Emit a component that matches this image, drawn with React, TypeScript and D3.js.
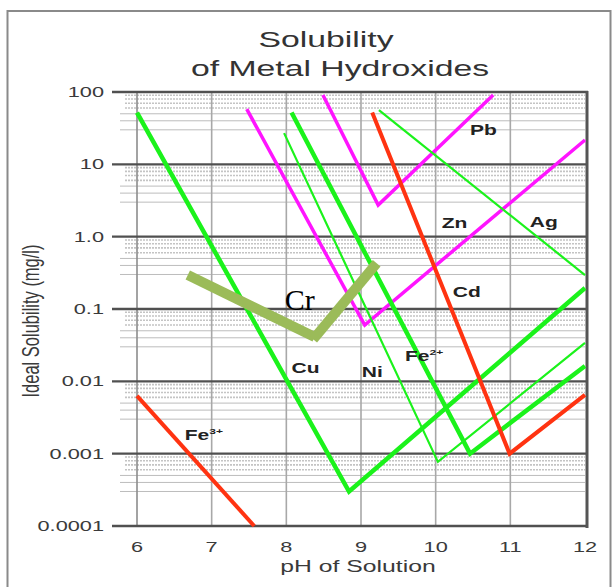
import React from "react";
import * as d3 from "d3";

const phTicks = [6, 7, 8, 9, 10, 11, 12];
const decadeValues = [100, 10, 1, 0.1, 0.01, 0.001, 0.0001];
const decadeLabels = ["100", "10", "1.0", "0.1", "0.01", "0.001", "0.0001"];
const minorMultipliers = [3, 4, 5, 6, 7, 8, 9];

type Pt = [number, number];
const cu: Pt[] = [[6.0, 52], [8.84, 0.0003], [12, 0.195]];
const ni: Pt[] = [[7.97, 27], [10.03, 0.00077], [12, 0.034]];
const fe2: Pt[] = [[8.07, 52], [10.46, 0.001], [12, 0.0163]];
const ag: Pt[] = [[9.24, 56], [12, 0.295]];
const zn: Pt[] = [[7.47, 58], [9.05, 0.06], [12, 21.7]];
const pb: Pt[] = [[8.49, 91], [9.23, 2.74], [10.77, 91]];
const cd: Pt[] = [[9.15, 52], [10.99, 0.001], [12, 0.0065]];
const fe3: Pt[] = [[6.0, 0.0063], [7.57, 0.0001]];
const crSeg1: Pt[] = [[6.68, 0.295], [8.38, 0.041]];
const crSeg2: Pt[] = [[8.36, 0.038], [9.21, 0.43]];

const labelNames = ["Pb", "Zn", "Ag", "Cd", "Cu", "Ni", "Fe", "Fe"];
const labelSups = ["", "", "", "", "", "", "2+", "3+"];
const labelAt: Pt[] = [
  [10.46, 25.4], [10.08, 1.31], [11.26, 1.36], [10.23, 0.146],
  [8.07, 0.013], [9.01, 0.0115], [9.59, 0.019], [6.64, 0.00154],
];
const crLabelAt: Pt = [7.98, 0.0966];

const x = d3.scaleLinear().domain([6, 12]).range([137, 585]);
const y = d3.scaleLog().domain([0.0001, 100]).range([526, 92]);
const line = d3.line<Pt>().x((d) => x(d[0])).y((d) => y(d[1]));

const SX = 1.5;
const sans = "Liberation Sans, Arial, Helvetica, sans-serif";

function SText(props: { x: number; y: number; size: number; anchor?: string; bold?: boolean; fill?: string; children: React.ReactNode; rotate?: boolean }) {
  const t = `translate(${props.x},${props.y}) scale(${SX},1)` + (props.rotate ? " rotate(-90)" : "");
  return (
    <text
      transform={t}
      fontFamily={sans}
      fontSize={props.size}
      fontWeight={props.bold ? "bold" : "normal"}
      textAnchor={props.anchor || "start"}
      fill={props.fill || "#333"}
    >
      {props.children}
    </text>
  );
}

export default function App() {
  const minorLines: { v: number; m: number }[] = [];
  for (let e = -4; e < 2; e++) {
    for (const m of minorMultipliers) minorLines.push({ v: m * Math.pow(10, e), m });
  }
  const green = "#1bf21b";
  const magenta = "#ff14ff";
  const red = "#ff3311";
  return (
    <svg width={616} height={587} style={{ position: "absolute", left: 0, top: 0, background: "#fff" }}>
      <rect x={7.5} y={11} width={603} height={600} fill="#fff" stroke="#8a8a8a" strokeWidth={2} />
      {/* title */}
      <SText x={326} y={47} size={22.5} anchor="middle" fill="#333">Solubility</SText>
      <SText x={340} y={76} size={22.5} anchor="middle" fill="#333">of Metal Hydroxides</SText>

      {/* minor horizontal lines */}
      {minorLines.map((d, i) => (
        <line
          key={"mn" + i}
          x1={d.m >= 6 ? 125 : 120}
          x2={585}
          y1={y(d.v)}
          y2={y(d.v)}
          stroke={d.m >= 6 ? "#c4c4c4" : "#bdbdbd"}
          strokeWidth={d.m >= 6 ? 1.6 : 1}
          strokeDasharray={d.m >= 6 ? "2,1" : undefined}
        />
      ))}
      {/* vertical grid */}
      {phTicks.slice(0, 6).map((p) => (
        <line key={"v" + p} x1={x(p)} x2={x(p)} y1={92} y2={527} stroke={p === 6 ? "#8c8c8c" : "#a8a8a8"} strokeWidth={1.6} />
      ))}
      {/* decade lines */}
      {decadeValues.map((v) => (
        <line key={"d" + v} x1={112} x2={588} y1={y(v)} y2={y(v)} stroke="#505050" strokeWidth={2.4} />
      ))}
      <line x1={587} x2={587} y1={91} y2={528} stroke="#555" strokeWidth={3} />

      {/* y tick labels */}
      {decadeValues.map((v, i) => (
        <SText key={"yl" + v} x={104} y={y(v) + 5} size={14.5} anchor="end" fill="#3a3a3a">{decadeLabels[i]}</SText>
      ))}
      {/* x tick labels */}
      {phTicks.map((p) => (
        <SText key={"xl" + p} x={x(p)} y={552} size={14.5} anchor="middle" fill="#3a3a3a">{String(p)}</SText>
      ))}
      <SText x={358} y={572} size={16.5} anchor="middle" fill="#3a3a3a">pH of Solution</SText>
      <SText x={39} y={321} size={16.5} anchor="middle" fill="#3a3a3a" rotate>Ideal Solubility (mg/l)</SText>

      {/* series */}
      <path d={line(zn) || ""} fill="none" stroke={magenta} strokeWidth={3.5} strokeLinejoin="miter" />
      <path d={line(pb) || ""} fill="none" stroke={magenta} strokeWidth={3.5} strokeLinejoin="miter" />
      <path d={line(cu) || ""} fill="none" stroke={green} strokeWidth={4.5} strokeLinejoin="miter" />
      <path d={line(ni) || ""} fill="none" stroke={green} strokeWidth={2.2} strokeLinejoin="miter" />
      <path d={line(fe2) || ""} fill="none" stroke={green} strokeWidth={4.5} strokeLinejoin="miter" />
      <path d={line(ag) || ""} fill="none" stroke={green} strokeWidth={2.2} />
      <path d={line(cd) || ""} fill="none" stroke={red} strokeWidth={4} strokeLinejoin="miter" />
      <path d={line(fe3) || ""} fill="none" stroke={red} strokeWidth={4} />

      {/* labels */}
      {labelNames.map((n, i) => (
        <SText key={"lb" + i} x={x(labelAt[i][0])} y={y(labelAt[i][1])} size={14} bold fill="#222">
          {n}
          {labelSups[i] ? <tspan fontSize={8} dy={-6}>{labelSups[i]}</tspan> : null}
        </SText>
      ))}

      {/* Cr annotation */}
      <path d={line(crSeg1) || ""} fill="none" stroke="#9bbb59" strokeWidth={10} />
      <path d={line(crSeg2) || ""} fill="none" stroke="#9bbb59" strokeWidth={10} />
      <text x={x(crLabelAt[0])} y={y(crLabelAt[1])} fontFamily="Liberation Serif, Times New Roman, serif" fontSize={30} fill="#000">Cr</text>
    </svg>
  );
}
